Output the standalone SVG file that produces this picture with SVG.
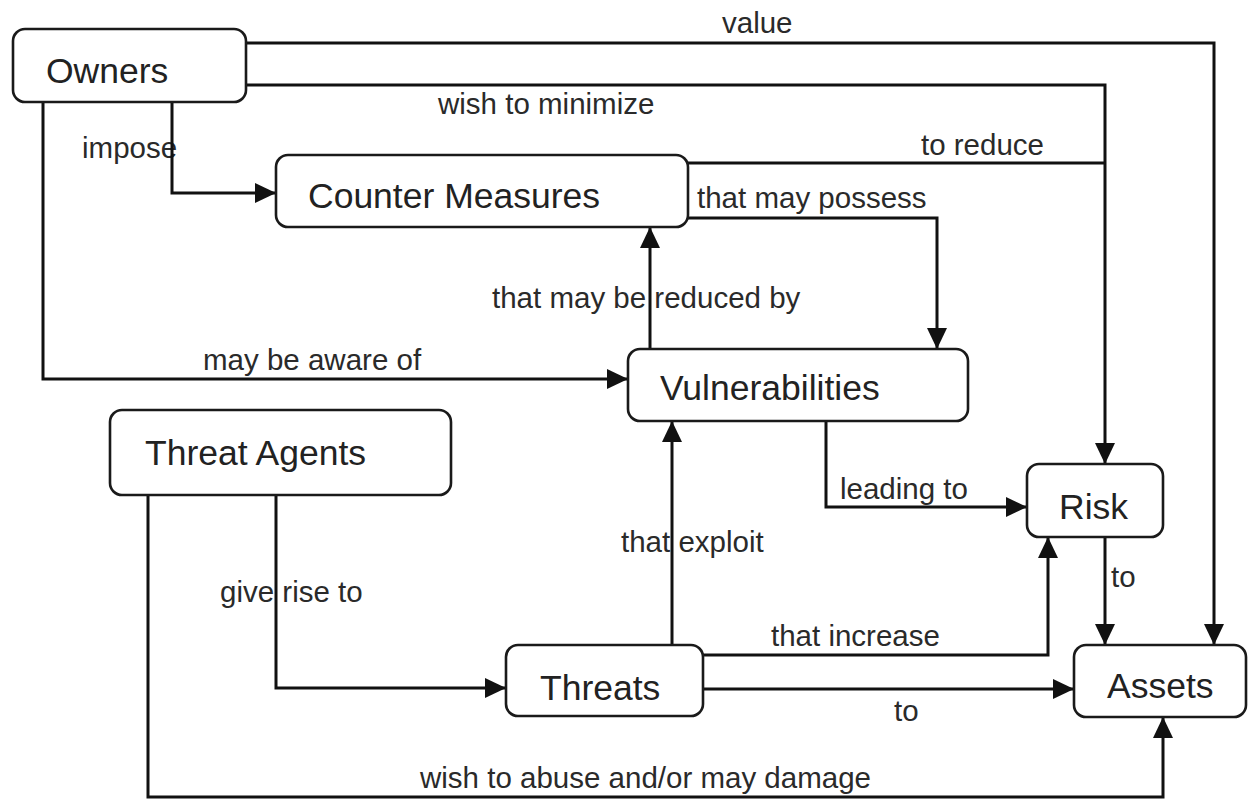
<svg xmlns="http://www.w3.org/2000/svg" width="1248" height="802" viewBox="0 0 1248 802">
<style>
.node rect{fill:#fff;stroke:#1a1a1a;stroke-width:2.6}
.node text{font-family:"Liberation Sans",Arial,sans-serif;font-size:35.5px;fill:#222}
.lbl{font-family:"Liberation Sans",Arial,sans-serif;font-size:29.5px;fill:#2a2a2a}
.conn path{fill:none;stroke:#111;stroke-width:3}
.arr path{marker-end:url(#ah)}
</style>
<defs>
<marker id="ah" markerUnits="userSpaceOnUse" markerWidth="22" markerHeight="20" refX="21" refY="10" orient="auto">
<path d="M0,0 L21,10 L0,20 z" fill="#111"/>
</marker>
</defs>
<rect width="1248" height="802" fill="#fff"/>
<g id="labels">
<text class="lbl" x="722" y="33">value</text>
<text class="lbl" x="438" y="114">wish to minimize</text>
<text class="lbl" x="921" y="155">to reduce</text>
<text class="lbl" x="82" y="158">impose</text>
<text class="lbl" x="697" y="208">that may possess</text>
<text class="lbl" x="492" y="308">that may be reduced by</text>
<text class="lbl" x="203" y="370">may be aware of</text>
<text class="lbl" x="840" y="499">leading to</text>
<text class="lbl" x="621" y="552">that exploit</text>
<text class="lbl" x="220" y="602">give rise to</text>
<text class="lbl" x="771" y="646">that increase</text>
<text class="lbl" x="1111" y="587">to</text>
<text class="lbl" x="894" y="721">to</text>
<text class="lbl" x="420" y="788">wish to abuse and/or may damage</text>
</g>
<g id="connectors" class="conn">
<g class="arr">
<path d="M246,43 H1214 V645"/>
<path d="M246,85 H1105 V464"/>
<path d="M688,218 H937 V349"/>
<path d="M172,102 V193 H276"/>
<path d="M43,102 V379 H628"/>
<path d="M650,349 V227"/>
<path d="M826,421 V507 H1027"/>
<path d="M1105,537 V645"/>
<path d="M276,495 V688 H506"/>
<path d="M672,645 V421"/>
<path d="M703,655 H1048 V537"/>
<path d="M703,689 H1074"/>
<path d="M148,495 V797 H1163 V717"/>
</g>
<path d="M688,163 H1105"/>
</g>
<g id="owners" class="node"><rect x="13" y="29" width="233" height="73" rx="12"/><text x="46" y="83">Owners</text></g>
<g id="counter-measures" class="node"><rect x="276" y="155" width="412" height="72" rx="12"/><text x="308" y="208">Counter Measures</text></g>
<g id="vulnerabilities" class="node"><rect x="628" y="349" width="340" height="72" rx="12"/><text x="660" y="400">Vulnerabilities</text></g>
<g id="threat-agents" class="node"><rect x="110" y="410" width="341" height="85" rx="12"/><text x="145" y="465">Threat Agents</text></g>
<g id="risk" class="node"><rect x="1027" y="464" width="136" height="73" rx="12"/><text x="1059" y="519">Risk</text></g>
<g id="threats" class="node"><rect x="506" y="645" width="197" height="71" rx="12"/><text x="540" y="700">Threats</text></g>
<g id="assets" class="node"><rect x="1074" y="645" width="172" height="72" rx="12"/><text x="1107" y="698">Assets</text></g>
</svg>
